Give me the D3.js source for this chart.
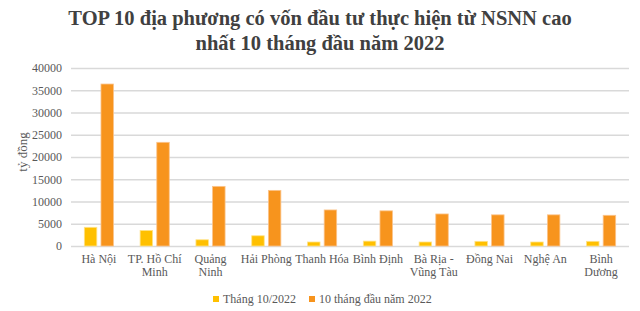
<!DOCTYPE html>
<html lang="vi">
    <head>
        <meta charset="UTF-8" />
        <title>D3</title>
        <script src="https://d3js.org/d3.v7.min.js"></script>
        <style>
            body { margin: 0; background: #fff; }
            text { font-family: "Liberation Serif", "Times New Roman", serif; }
        </style>
    </head>
    <body>
        <div class="canvas"></div>
        <script>
            // dữ liệu (tỷ đồng)
            const categories = [
                ["Hà Nội"],
                ["TP. Hồ Chí", "Minh"],
                ["Quảng", "Ninh"],
                ["Hải Phòng"],
                ["Thanh Hóa"],
                ["Bình Định"],
                ["Bà Rịa -", "Vũng Tàu"],
                ["Đồng Nai"],
                ["Nghệ An"],
                ["Bình", "Dương"],
            ];
            const thang10 = [4200, 3500, 1400, 2300, 900, 1100, 900, 1050, 900, 1050];
            const muoiThang = [36400, 23300, 13400, 12500, 8100, 7900, 7200, 7000, 7000, 6900];
            const seriesNames = ["Tháng 10/2022", "10 tháng đầu năm 2022"];
            const yTicks = [0, 5000, 10000, 15000, 20000, 25000, 30000, 35000, 40000];
            const titleLines = [
                "TOP 10 địa phương có vốn đầu tư thực hiện từ NSNN cao",
                "nhất 10 tháng đầu năm 2022",
            ];

            const width = 640;
            const height = 311;
            const colors = ["#ffc000", "#f7941d"];
            const strokes = ["#ffe38a", "#fbc48c"];

            const svg = d3
                .select(".canvas")
                .append("svg")
                .attr("width", width)
                .attr("height", height);

            const keys = categories.map((c) => c.join(" "));

            const x0 = d3.scaleBand().domain(keys).range([71, 629]).padding(0);
            const x1 = d3
                .scaleBand()
                .domain([0, 1])
                .range([0, x0.bandwidth()])
                .paddingInner(0.25)
                .paddingOuter(0.8);
            const y = d3.scaleLinear().domain([0, 40000]).range([246, 68]);

            // tiêu đề
            titleLines.forEach((t, i) => {
                svg.append("text")
                    .attr("x", 320)
                    .attr("y", 25 + i * 25)
                    .attr("text-anchor", "middle")
                    .attr("font-size", "20.5px")
                    .attr("font-weight", "bold")
                    .attr("fill", "#404040")
                    .text(t);
            });

            // lưới + trục y
            const yAxisG = svg
                .append("g")
                .attr("transform", "translate(71,0)")
                .attr("font-family", "Liberation Serif");
            yAxisG.call(
                d3
                    .axisLeft(y)
                    .tickValues(yTicks)
                    .tickFormat(d3.format("d"))
                    .tickSize(-(629 - 71))
                    .tickPadding(9)
            );
            yAxisG.select(".domain").remove();
            yAxisG.selectAll(".tick line").attr("stroke", "#d9d9d9").attr("stroke-width", 1.3);
            yAxisG
                .selectAll(".tick text")
                .attr("fill", "#595959")
                .attr("font-size", "12px");

            svg.append("text")
                .attr("transform", "translate(27,152) rotate(-90)")
                .attr("text-anchor", "middle")
                .attr("font-size", "13px")
                .attr("fill", "#595959")
                .text("tỷ đồng");

            // cột
            const rows = keys.map((k, i) => ({ key: k, vals: [thang10[i], muoiThang[i]] }));
            const groups = svg
                .selectAll(".grp")
                .data(rows)
                .enter()
                .append("g")
                .attr("transform", (d) => `translate(${x0(d.key)},0)`);

            groups
                .selectAll("rect")
                .data((d) => d.vals.map((v, s) => ({ v, s })))
                .enter()
                .append("rect")
                .attr("x", (d) => x1(d.s))
                .attr("width", x1.bandwidth())
                .attr("y", (d) => y(d.v))
                .attr("height", (d) => y(0) - y(d.v))
                .attr("fill", (d) => colors[d.s])
                .attr("stroke", (d) => strokes[d.s])
                .attr("stroke-width", 0.8);

            // nhãn trục x
            const labels = svg
                .selectAll(".xl")
                .data(categories)
                .enter()
                .append("text")
                .attr("text-anchor", "middle")
                .attr("font-size", "12px")
                .attr("fill", "#595959")
                .attr("x", (d) => x0(d.join(" ")) + x0.bandwidth() / 2)
                .attr("y", 263);
            labels
                .selectAll("tspan")
                .data((d) => d)
                .enter()
                .append("tspan")
                .attr("x", function () {
                    return d3.select(this.parentNode).attr("x");
                })
                .attr("dy", (d, i) => (i === 0 ? 0 : 13))
                .text((d) => d);

            // chú giải
            const legendX = [216, 312];
            seriesNames.forEach((name, i) => {
                svg.append("rect")
                    .attr("x", legendX[i] - 3)
                    .attr("y", 296)
                    .attr("width", 6)
                    .attr("height", 6)
                    .attr("fill", colors[i]);
                svg.append("text")
                    .attr("x", legendX[i] + 7)
                    .attr("y", 303)
                    .attr("font-size", "12px")
                    .attr("fill", "#595959")
                    .text(name);
            });
        </script>
    </body>
</html>
